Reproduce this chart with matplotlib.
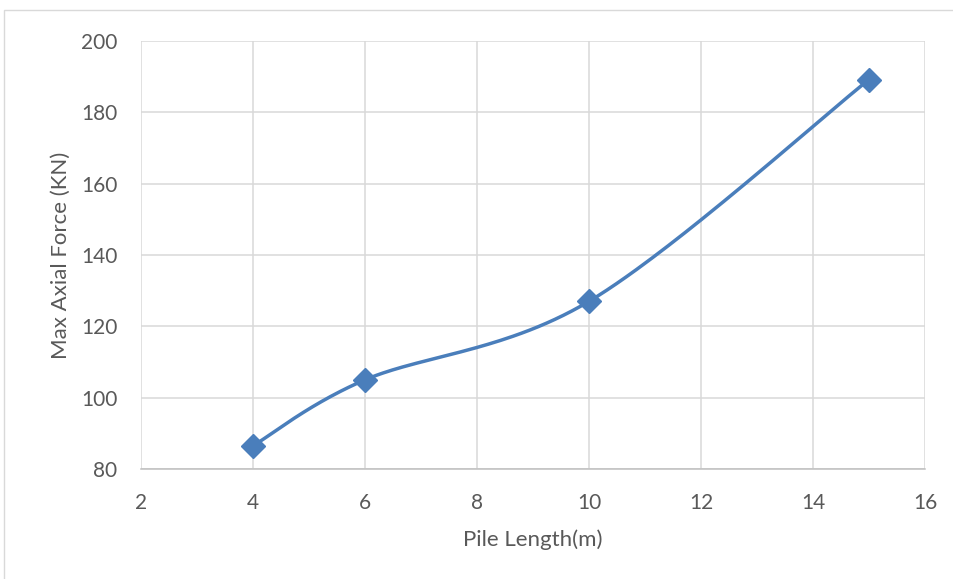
import numpy as np
import matplotlib
matplotlib.use("Agg")
import matplotlib.pyplot as plt
from matplotlib.patches import Rectangle

pile_length = [4, 6, 10, 15]
max_axial_force = [86.5, 105.0, 127.0, 189.2]
x_ticks = [2, 4, 6, 8, 10, 12, 14, 16]
y_ticks = [80, 100, 120, 140, 160, 180, 200]


def excel_smooth(xs, ys, n=60):
    """Bezier smoothing similar to Excel's smoothed line."""
    pts = np.column_stack([xs, ys]).astype(float)
    out = []
    for i in range(len(pts) - 1):
        p0 = pts[i - 1] if i > 0 else pts[i]
        p1 = pts[i]
        p2 = pts[i + 1]
        p3 = pts[i + 2] if i + 2 < len(pts) else pts[i + 1]
        c1 = p1 + (p2 - p0) / 6.0
        c2 = p2 - (p3 - p1) / 6.0
        t = np.linspace(0, 1, n)[:, None]
        seg = ((1 - t) ** 3) * p1 + 3 * ((1 - t) ** 2) * t * c1 \
            + 3 * (1 - t) * t ** 2 * c2 + t ** 3 * p2
        out.append(seg if i == 0 else seg[1:])
    out = np.vstack(out)
    return out[:, 0], out[:, 1]


plt.rcParams["font.family"] = ["Lato", "DejaVu Sans"]
text_color = "#595959"

fig = plt.figure(figsize=(9.54, 5.79), dpi=100)
ax = fig.add_axes([141 / 954, 1 - 469 / 579, 784 / 954, 428 / 579])

sx, sy = excel_smooth(pile_length, max_axial_force)
ax.plot(sx, sy, color="#4A7EBB", linewidth=2.5, solid_capstyle="round", zorder=3)
ax.plot(pile_length, max_axial_force, linestyle="none", marker="D",
        markersize=12, color="#4A7EBB", zorder=4)

ax.set_xlim(2, 16)
ax.set_ylim(80, 200)
ax.set_xticks(x_ticks)
ax.set_yticks(y_ticks)
ax.grid(True, color="#D9D9D9", linewidth=1.1)
ax.set_axisbelow(True)
for side in ["top", "right", "left"]:
    ax.spines[side].set_visible(False)
ax.spines["bottom"].set_color("#BFBFBF")
ax.spines["bottom"].set_linewidth(1.1)
ax.tick_params(axis="x", length=0, labelsize=15, colors=text_color, pad=17)
ax.tick_params(axis="y", length=0, labelsize=15, colors=text_color, pad=17)

ax.set_xlabel("Pile Length(m)", fontsize=16, color=text_color, labelpad=12)
ax.set_ylabel("Max Axial Force (KN)", fontsize=16, color=text_color, labelpad=7)

# outer chart border (right and bottom edges fall outside the image)
fig.patches.append(Rectangle((4 / 954, -0.1), 1.1, 1.1 - 10 / 579,
                             transform=fig.transFigure, fill=False,
                             edgecolor="#D9D9D9", linewidth=1.0))

fig.savefig("out.png", dpi=100)
